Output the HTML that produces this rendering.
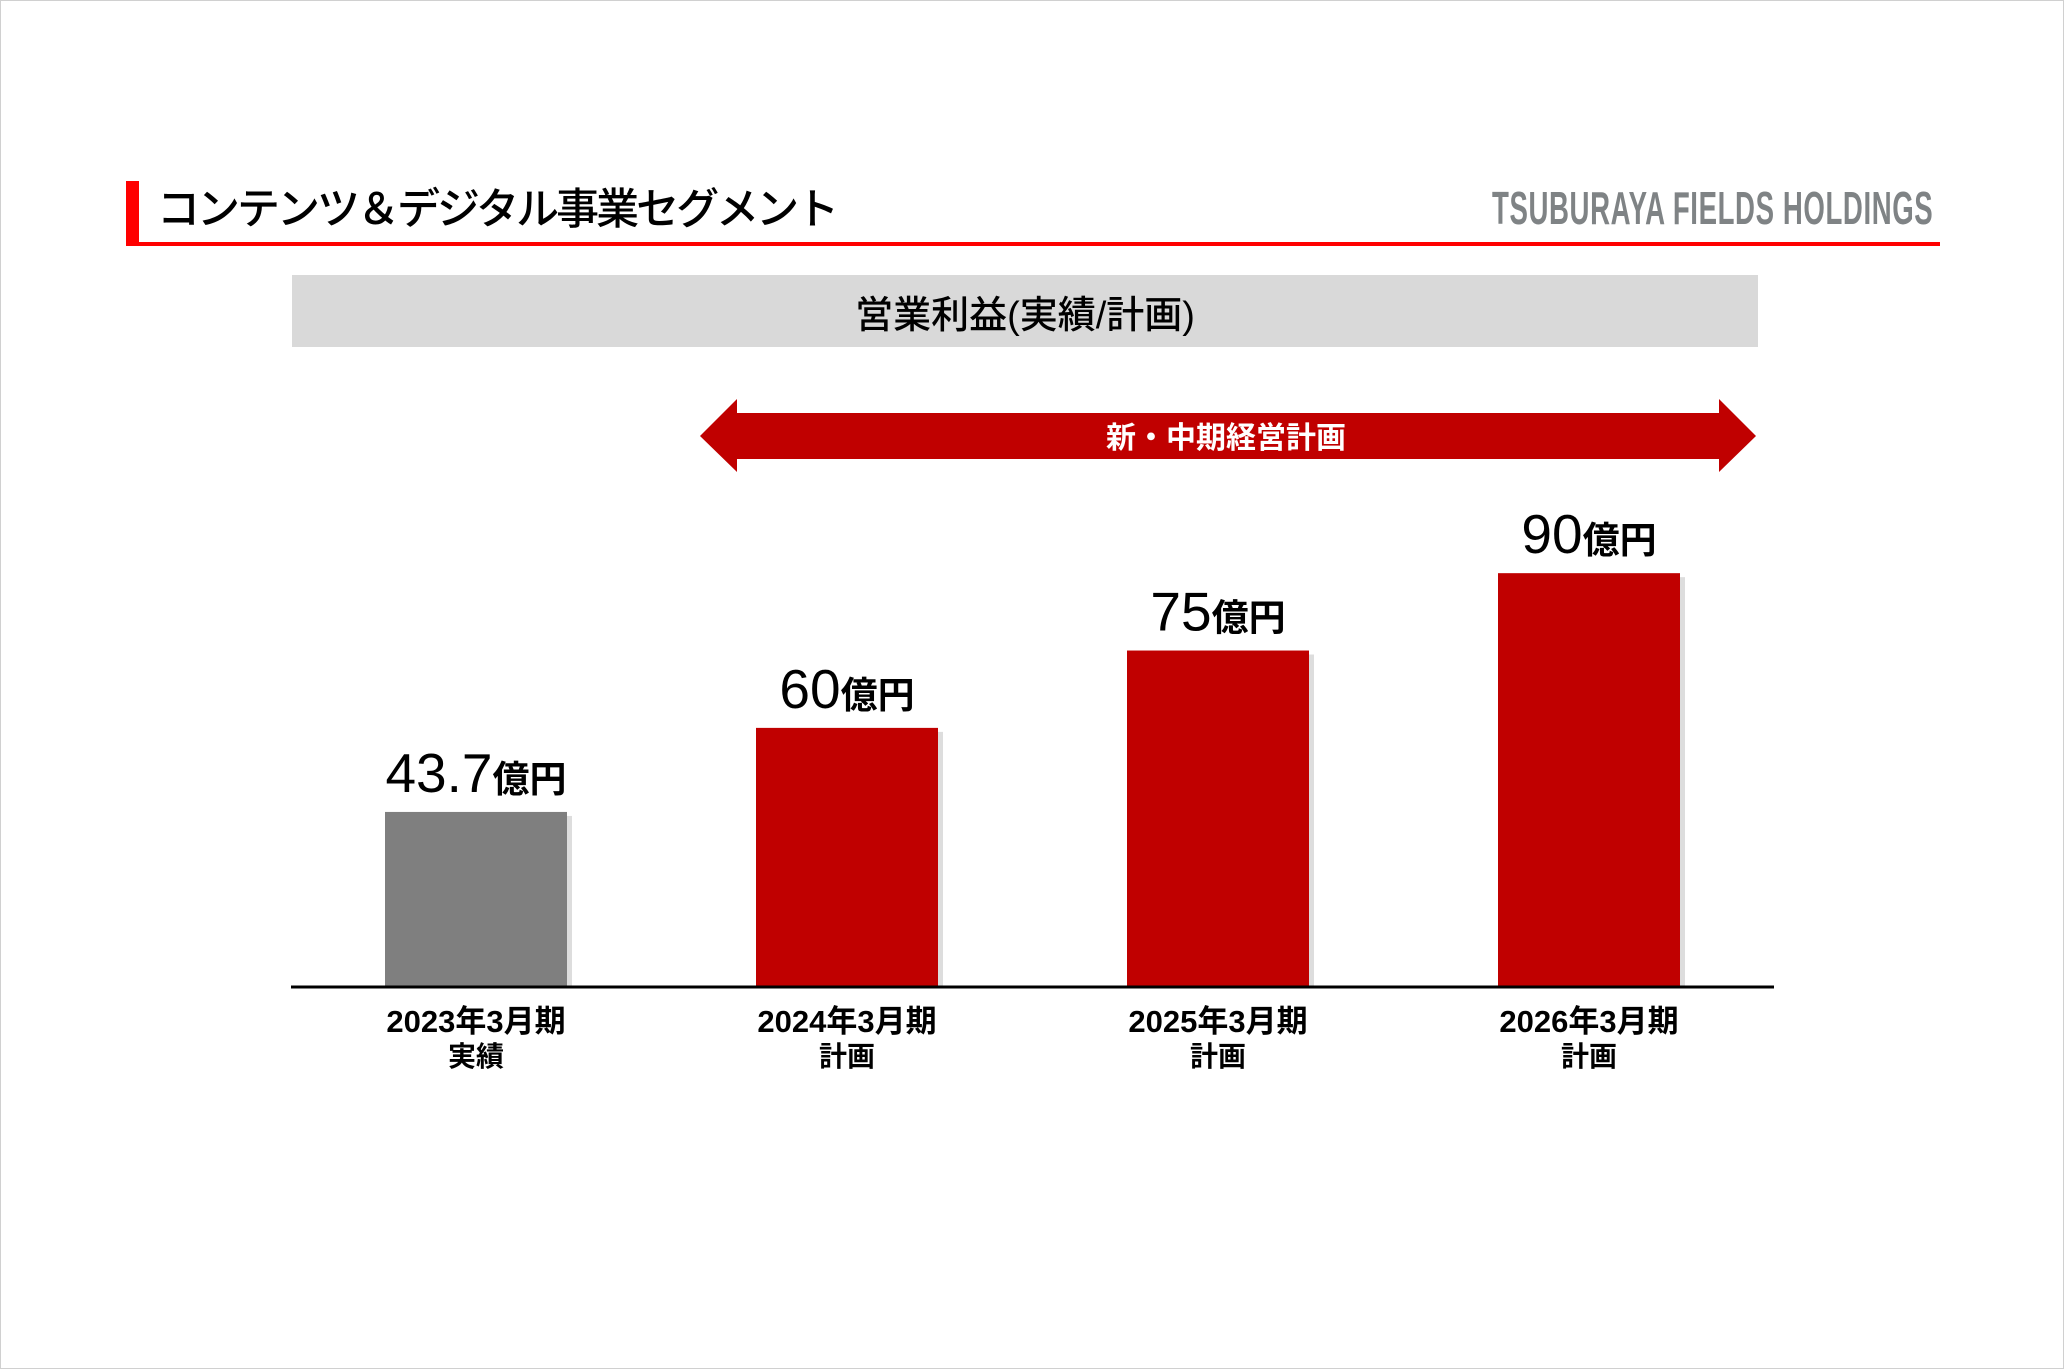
<!DOCTYPE html>
<html><head><meta charset="utf-8"><style>
body{margin:0;width:2064px;height:1369px;overflow:hidden;background:#fff;font-family:"Liberation Sans","Noto Sans CJK JP",sans-serif;}
#page{position:relative;width:2062px;height:1367px;border:1px solid #d0d0d0;}
.abs{position:absolute;}
</style></head><body>
<div id="page">
<div class="abs" style="left:125px;top:180px;width:13px;height:65px;background:#f00"></div>
<div class="abs" style="left:125px;top:241px;width:1814px;height:4px;background:#f00"></div>
<div class="abs" style="left:156px;top:174px;font-size:43px;font-weight:500;color:#000;white-space:nowrap;letter-spacing:-3px">コンテンツ＆デジタル事業セグメント</div>
<div class="abs" style="left:1491px;top:180px;font-size:46px;font-weight:bold;color:#7f8385;white-space:nowrap;transform:scaleX(0.6);transform-origin:left top;letter-spacing:1px">TSUBURAYA FIELDS HOLDINGS</div>
<div class="abs" style="left:291px;top:274px;width:1466px;height:72px;background:#d9d9d9;display:flex;align-items:center;justify-content:center;font-size:38px;font-weight:500">営業利益(実績/計画)</div>
<svg class="abs" style="left:0;top:0" width="2064" height="1369">
<polygon points="699,435 736,398 736,412 1718,412 1718,398 1755,435 1718,471 1718,458 736,458 736,471" fill="#c00000"/>
<text x="1225" y="447" text-anchor="middle" font-size="30" font-weight="bold" fill="#fff">新・中期経営計画</text>
<g id="bars"></g>
<line x1="290" y1="986" x2="1773" y2="986" stroke="#000" stroke-width="3"/>
</svg>
</div>
<script>
const categories=["2023年3月期","2024年3月期","2025年3月期","2026年3月期"];
const subLabels=["実績","計画","計画","計画"];
const values=[43.7,60,75,90];
const valueLabels=["43.7","60","75","90"];
const colors=["#7f7f7f","#c00000","#c00000","#c00000"];
const baseY=986;
function yScale(v){return baseY-(-50.3+5.157*v);}
function xCenter(i){return 475+i*371;}
const g=document.getElementById('bars');
const ns="http://www.w3.org/2000/svg";
values.forEach((v,i)=>{
  const cx=xCenter(i),w=182,top=yScale(v);
  const sh=document.createElementNS(ns,'rect');
  
  
  sh.setAttribute('x',cx-w/2+5);sh.setAttribute('y',top+4);sh.setAttribute('width',w);sh.setAttribute('height',baseY-top-4);sh.setAttribute('fill','#ddd');
  g.appendChild(sh);
  const r=document.createElementNS(ns,'rect');
  
  
  r.setAttribute('x',cx-w/2);r.setAttribute('y',top);r.setAttribute('width',w);r.setAttribute('height',baseY-top);r.setAttribute('fill',colors[i]);
  g.appendChild(r);
  const t=document.createElementNS(ns,'text');
  
  
  t.setAttribute('x',cx);t.setAttribute('y',top-20);t.setAttribute('text-anchor','middle');t.setAttribute('font-weight','500');
  t.innerHTML='<tspan font-size="55">'+valueLabels[i]+'</tspan><tspan font-size="37" font-weight="bold">億円</tspan>';
  g.appendChild(t);
  const c=document.createElementNS(ns,'text');
  
  
  c.setAttribute('x',cx);c.setAttribute('y',1031);c.setAttribute('text-anchor','middle');c.setAttribute('font-size','31');c.setAttribute('font-weight','bold');
  c.textContent=categories[i];
  g.appendChild(c);
  const s=document.createElementNS(ns,'text');
  
  
  s.setAttribute('x',cx);s.setAttribute('y',1065);s.setAttribute('text-anchor','middle');s.setAttribute('font-size','28');s.setAttribute('font-weight','bold');
  s.textContent=subLabels[i];
  g.appendChild(s);
});
</script>
</body></html>
